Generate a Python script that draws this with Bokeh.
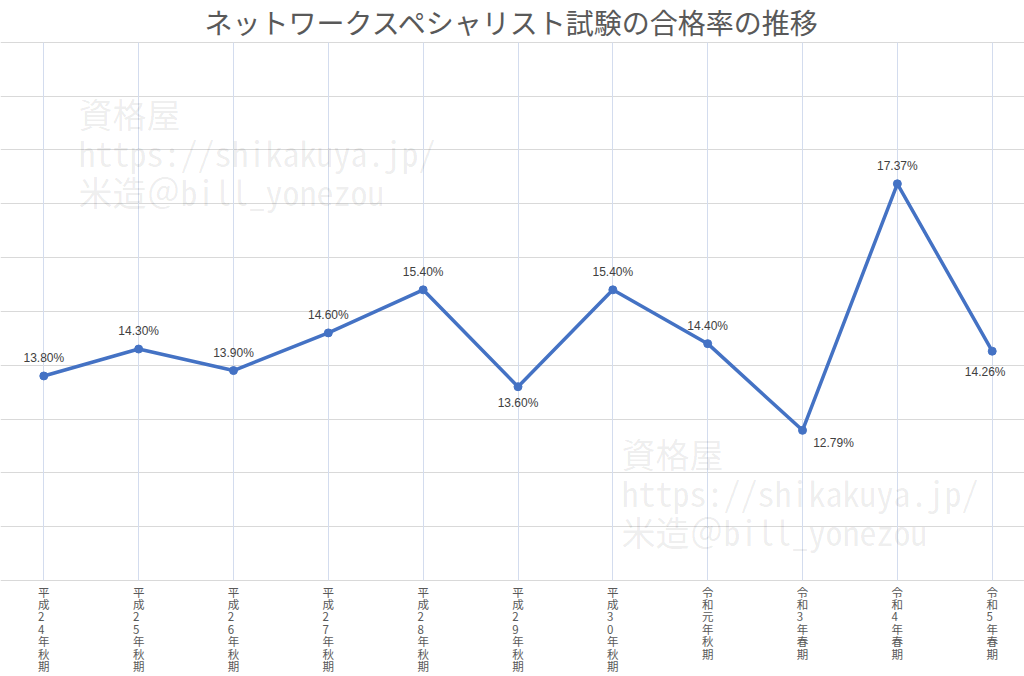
from bokeh.plotting import figure
from bokeh.models import ColumnDataSource, Range1d, Grid, FixedTicker, LabelSet, Label
from bokeh.core.properties import value
from bokeh.embed import file_html
from bokeh.resources import INLINE

# ---- data ----
title_text = "ネットワークスペシャリスト試験の合格率の推移"
categories = ["平成24年秋期", "平成25年秋期", "平成26年秋期", "平成27年秋期",
              "平成28年秋期", "平成29年秋期", "平成30年秋期", "令和元年秋期",
              "令和3年春期", "令和4年春期", "令和5年春期"]
pass_rate = [13.80, 14.30, 13.90, 14.60, 15.40, 13.60, 15.40, 14.40, 12.79, 17.37, 14.26]
y_ticks = [10, 11, 12, 13, 14, 15, 16, 17, 18, 19, 20]
watermark_lines = ["資格屋", "https://shikakuya.jp/", "米造＠bill_yonezou"]

# ---- layout / style ----
W, H = 1024, 676
JP = "Noto Sans CJK JP"
MONO = "Noto Sans Mono CJK JP, DejaVu Sans Mono, monospace"
LINE_COLOR = "#4472C4"

xs = list(range(len(categories)))
p = figure(width=W, height=H,
           x_range=Range1d(-0.4566, 10.3405), y_range=Range1d(8.2166, 20.775),
           x_axis_type=None, y_axis_type=None,
           min_border_left=0, min_border_right=0, min_border_top=0, min_border_bottom=0,
           output_backend="svg", toolbar_location=None,
           outline_line_color=None, background_fill_color="white",
           border_fill_color="white")

ygrid = Grid(dimension=1, ticker=FixedTicker(ticks=y_ticks),
             grid_line_color="#d9d9d9", grid_line_width=1)
xgrid = Grid(dimension=0, ticker=FixedTicker(ticks=xs),
             grid_line_color="#d3dcee", grid_line_width=1,
             cross_bounds=(y_ticks[0], y_ticks[-1]))
p.add_layout(ygrid)
p.add_layout(xgrid)

# watermarks (screen units, measured from the bottom-left of the frame)
for (wx, wy) in [(78, H - 113), (621, H - 453)]:
    for i, txt in enumerate(watermark_lines):
        p.add_layout(Label(x=wx, y=wy - i * 39, x_units="screen", y_units="screen",
                           text=txt, text_font=MONO, text_font_size="34px",
                           text_color="#000000", text_alpha=0.08,
                           text_baseline="middle", text_align="left",
                           level="underlay"))

src = ColumnDataSource(dict(
    x=xs, y=pass_rate,
    label=[f"{v:.2f}%" for v in pass_rate],
    dx=[0, 0, 0, 0, 0, 0, 0, 0, 31, 0, -7],
    dy=[18, 18, 18, 18, 18, -16, 18, 18, -13, 18, -21],
))

p.line("x", "y", source=src, line_color=LINE_COLOR, line_width=3.5, line_join="round")
p.scatter("x", "y", source=src, size=8, fill_color=LINE_COLOR, line_color=LINE_COLOR)

p.add_layout(LabelSet(x="x", y="y", text="label", source=src,
                      x_offset="dx", y_offset="dy",
                      text_font=value("Liberation Sans"), text_font_size="12px",
                      text_color="#404040", text_align="center", text_baseline="middle"))

# category labels (stacked vertically, one character per line)
cat_src = ColumnDataSource(dict(
    x=xs, y=[y_ticks[0]] * len(xs),
    text=["\n".join(list(c)) for c in categories],
))
p.add_layout(LabelSet(x="x", y="y", text="text", source=cat_src,
                      y_offset=-3, text_font=value(JP), text_font_size="11.5px",
                      text_line_height=0.78,
                      text_color="#595959", text_align="center", text_baseline="top"))

# title
p.add_layout(Label(x=W / 2, y=H - 21, x_units="screen", y_units="screen",
                   text=title_text, text_font=JP, text_font_size="28px",
                   text_color="#595959", text_align="center", text_baseline="alphabetic"))

open("out.html", "w").write(file_html(p, INLINE))
